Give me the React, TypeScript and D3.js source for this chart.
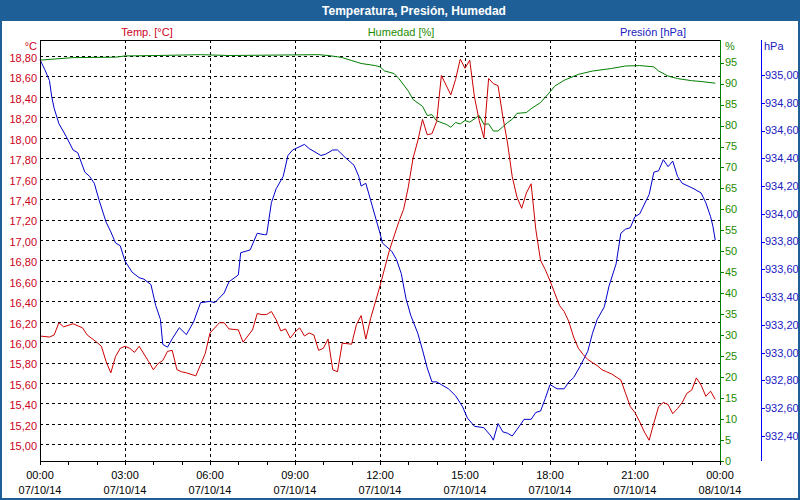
import React from "react";
import * as d3 from "d3";

// ---- data (minutes since 07/10/14 00:00) ----
const tempMinutes = [0,20,30,40,50,70,90,100,120,130,140,150,160,170,180,190,200,210,230,240,250,260,270,280,290,300,310,330,340,350,360,
  380,390,400,420,430,450,460,470,480,490,500,510,520,530,540,550,560,570,580,590,600,610,620,630,640,660,670,680,690,700,720,
  740,760,770,780,790,800,810,820,830,840,850,870,880,890,900,910,920,930,940,950,960,970,980,990,1000,1010,1020,1030,1040,1050,1060,1070,1080,
  1090,1100,1110,1120,1130,1140,1150,1160,1170,1180,1190,1200,1210,1220,1230,1240,1250,1260,1270,1280,1290,1300,1310,1320,1330,1340,1350,1360,1370,1380,1390,1400,1410,1420,1430];
const tempValues = [16.06,16.05,16.07,16.19,16.15,16.18,16.14,16.07,16.00,15.96,15.81,15.70,15.86,15.94,15.96,15.94,15.90,15.96,15.81,15.73,15.79,15.82,15.91,15.92,15.73,15.71,15.70,15.67,15.78,15.89,16.09,
  16.19,16.19,16.13,16.12,16.00,16.12,16.28,16.27,16.27,16.30,16.22,16.11,16.13,16.04,16.10,16.14,16.06,16.09,16.07,15.92,15.94,16.03,15.73,15.71,15.99,15.98,16.17,16.26,16.03,16.23,16.55,
  16.90,17.18,17.30,17.52,17.80,17.97,18.18,18.03,18.04,18.16,18.61,18.42,18.57,18.77,18.68,18.76,18.40,18.17,18.00,18.58,18.53,18.51,18.21,17.95,17.62,17.42,17.31,17.46,17.55,17.10,16.80,16.71,16.60,
  16.48,16.36,16.30,16.20,16.05,15.94,15.88,15.83,15.80,15.77,15.73,15.71,15.69,15.66,15.63,15.50,15.37,15.31,15.22,15.12,15.04,15.21,15.37,15.41,15.39,15.30,15.35,15.41,15.50,15.53,15.65,15.58,15.47,15.52,15.44];

const humMinutes = [0,70,160,180,250,340,400,590,610,630,640,660,680,710,720,730,750,760,780,790,810,820,830,840,860,870,880,890,900,910,930,940,950,960,970,980,990,1000,1010,1030,1040,1060,1080,
  1090,1110,1140,1170,1210,1240,1270,1300,1310,1330,1350,1380,1400,1430];
const humValues = [95.6,96.2,96.3,96.6,96.7,96.9,96.7,96.9,96.7,96.4,96.2,95.5,94.8,94.3,94.0,93.0,92.4,91.2,88.2,86.2,84.6,82.4,82.6,81.1,80.3,79.6,80.7,80.4,81.2,80.8,82.4,80.3,80.4,78.7,78.7,79.7,80.7,81.5,82.9,83.1,84.0,85.5,88.0,
  89.4,90.8,92.2,93.0,93.6,94.2,94.3,94.0,93.0,91.8,91.2,90.7,90.5,90.1];

const presMinutes = [0,10,20,25,30,40,55,70,80,95,105,115,125,140,150,160,170,180,195,210,220,235,245,255,260,270,280,295,310,325,340,
  360,370,390,400,420,425,445,460,475,480,490,500,515,525,535,560,570,595,605,620,630,645,665,675,680,690,700,715,
  720,725,745,755,765,775,785,800,810,820,830,840,850,865,880,895,905,920,940,955,960,970,980,990,1000,1015,1025,1040,1050,1060,1070,
  1080,1095,1110,1120,1130,1145,1160,1170,1180,1195,1205,1220,1230,1240,1250,1260,1270,1290,1300,1310,1320,1330,1340,1350,1360,1385,1400,1410,1420,1425,1430];
const presValues = [935.11,935.04,934.96,934.84,934.76,934.65,934.56,934.46,934.44,934.30,934.27,934.22,934.10,933.94,933.87,933.79,933.77,933.66,933.58,933.54,933.53,933.49,933.34,933.24,933.06,933.04,933.10,933.18,933.13,933.22,933.36,
  933.37,933.36,933.43,933.51,933.56,933.72,933.74,933.86,933.85,933.85,934.08,934.18,934.27,934.42,934.46,934.50,934.47,934.42,934.43,934.46,934.46,934.41,934.35,934.27,934.20,934.22,934.10,933.92,
  933.86,933.79,933.73,933.67,933.57,933.39,933.27,933.14,933.02,932.89,932.79,932.79,932.77,932.74,932.69,932.61,932.53,932.47,932.46,932.40,932.37,932.49,932.43,932.42,932.40,932.47,932.52,932.52,932.57,932.58,932.67,
  932.77,932.74,932.74,932.79,932.82,932.91,933.01,933.14,933.24,933.33,933.48,933.64,933.86,933.89,933.90,933.98,934.00,934.14,934.30,934.31,934.39,934.34,934.38,934.27,934.22,934.18,934.15,934.08,933.98,933.91,933.81];

const tempTicks = [15.0,15.2,15.4,15.6,15.8,16.0,16.2,16.4,16.6,16.8,17.0,17.2,17.4,17.6,17.8,18.0,18.2,18.4,18.6,18.8];
const humTicks = [0,5,10,15,20,25,30,35,40,45,50,55,60,65,70,75,80,85,90,95];
const presTicks = [932.4,932.6,932.8,933.0,933.2,933.4,933.6,933.8,934.0,934.2,934.4,934.6,934.8,935.0];
const timeLabelMinutes = [0,180,360,540,720,900,1080,1260,1440];
const timeLabels = ["00:00","03:00","06:00","09:00","12:00","15:00","18:00","21:00","00:00"];
const dateLabels = ["07/10/14","07/10/14","07/10/14","07/10/14","07/10/14","07/10/14","07/10/14","07/10/14","08/10/14"];

const W = 800, H = 500;
const L = 40, R = 720, T = 40, B = 461;
const FONT = "'Liberation Sans', Arial, sans-serif";
const RED = "#cc0000", RED_TXT = "#cc0022";
const GREEN = "#008000", GREEN_TXT = "#1e8c00";
const BLUE = "#0000cc", BLUE_TXT = "#2020c0";
const TITLE_BG = "#1f5f98";

const comma = (v: number) => d3.format(".2f")(v).replace(".", ",");

export default function App() {
  const x = d3.scaleLinear().domain([0, 1440]).range([L, R]);
  const yT = d3.scaleLinear().domain([14.837, 18.957]).range([B, T]);
  const yH = d3.scaleLinear().domain([0, 100.4]).range([B, T]);
  const yP = d3.scaleLinear().domain([932.22, 935.252]).range([B, T]);

  const mk = (mins: number[], vals: number[], y: d3.ScaleLinear<number, number>) =>
    d3.line<number>().x((_, i) => x(mins[i])).y((v) => y(v))(vals) || "";

  const hourTicks = d3.range(0, 1441, 60);
  const vGrid = timeLabelMinutes.slice(1, -1);

  return (
    <svg width={W} height={H} style={{ position: "absolute", left: 0, top: 0, background: "#fff" }} fontFamily={FONT}>
      {/* frame */}
      <rect x={0} y={0} width={W} height={H} fill={TITLE_BG} />
      <rect x={2} y={21} width={W - 4} height={H - 23} fill="#ffffff" />
      <text x={414} y={15} fill="#ffffff" fontSize={12} fontWeight="bold" textAnchor="middle">Temperatura, Presión, Humedad</text>

      {/* series titles */}
      <text x={147} y={36} fill={RED_TXT} fontSize={11} textAnchor="middle">Temp. [°C]</text>
      <text x={401} y={36} fill={GREEN_TXT} fontSize={11} textAnchor="middle">Humedad [%]</text>
      <text x={653} y={36} fill={BLUE_TXT} fontSize={11} textAnchor="middle">Presión [hPa]</text>

      {/* unit labels */}
      <text x={37} y={49.5} fill={RED_TXT} fontSize={11} textAnchor="end">°C</text>
      <text x={725} y={50} fill={GREEN_TXT} fontSize={11}>%</text>
      <text x={764} y={50} fill={BLUE_TXT} fontSize={11}>hPa</text>

      {/* grid */}
      <g stroke="#000" strokeWidth={1} strokeDasharray="3,3" shapeRendering="crispEdges">
        {tempTicks.map((t) => (
          <line key={"h" + t} x1={L} x2={R} y1={Math.round(yT(t)) + 0.5} y2={Math.round(yT(t)) + 0.5} />
        ))}
        {vGrid.map((m) => (
          <line key={"v" + m} x1={Math.round(x(m)) + 0.5} x2={Math.round(x(m)) + 0.5} y1={T} y2={B} />
        ))}
      </g>

      {/* data lines */}
      <g fill="none" strokeWidth={1} strokeLinejoin="round">
        <path d={mk(humMinutes, humValues, yH)} stroke={GREEN} />
        <path d={mk(presMinutes, presValues, yP)} stroke={BLUE} />
        <path d={mk(tempMinutes, tempValues, yT)} stroke={RED} />
      </g>

      {/* plot frame */}
      <g shapeRendering="crispEdges">
        <line x1={L + 0.5} x2={L + 0.5} y1={T} y2={B + 1} stroke="#000" />
        <line x1={L} x2={R} y1={T + 0.5} y2={T + 0.5} stroke="#000" />
        <line x1={L} x2={R + 1} y1={B + 0.5} y2={B + 0.5} stroke="#000" />
        <line x1={R + 0.5} x2={R + 0.5} y1={T} y2={B + 1} stroke={GREEN} />
        <line x1={761.5} x2={761.5} y1={T} y2={B} stroke="#0000ff" />
      </g>

      {/* left axis labels */}
      <g fontSize={11} fill={RED_TXT} textAnchor="end">
        {tempTicks.map((t) => (
          <text key={t} x={37} y={yT(t) + 2} dy="0.35em">{comma(t)}</text>
        ))}
      </g>

      {/* humidity axis */}
      <g shapeRendering="crispEdges" stroke={GREEN}>
        {humTicks.map((h) => (
          <line key={h} x1={R} x2={R + 4} y1={Math.round(yH(h)) + 0.5} y2={Math.round(yH(h)) + 0.5} />
        ))}
      </g>
      <g fontSize={11} fill={GREEN_TXT}>
        {humTicks.map((h) => (
          <text key={h} x={725} y={yH(h)} dy="0.35em">{h}</text>
        ))}
      </g>

      {/* pressure axis */}
      <g shapeRendering="crispEdges" stroke="#0000ff">
        {presTicks.map((p) => (
          <line key={p} x1={761} x2={765} y1={Math.round(yP(p)) + 0.5} y2={Math.round(yP(p)) + 0.5} />
        ))}
      </g>
      <g fontSize={11} fill={BLUE_TXT}>
        {presTicks.map((p) => (
          <text key={p} x={765} y={yP(p)} dy="0.35em">{comma(p)}</text>
        ))}
      </g>

      {/* time axis */}
      <g shapeRendering="crispEdges" stroke="#000">
        {hourTicks.map((m) => (
          <line key={m} x1={Math.round(x(m)) + 0.5} x2={Math.round(x(m)) + 0.5} y1={B} y2={B + 4} />
        ))}
      </g>
      <g fontSize={11} fill="#000" textAnchor="middle">
        {timeLabelMinutes.map((m, i) => (
          <g key={i}>
            <text x={x(m)} y={479}>{timeLabels[i]}</text>
            <text x={x(m)} y={494}>{dateLabels[i]}</text>
          </g>
        ))}
      </g>
    </svg>
  );
}
